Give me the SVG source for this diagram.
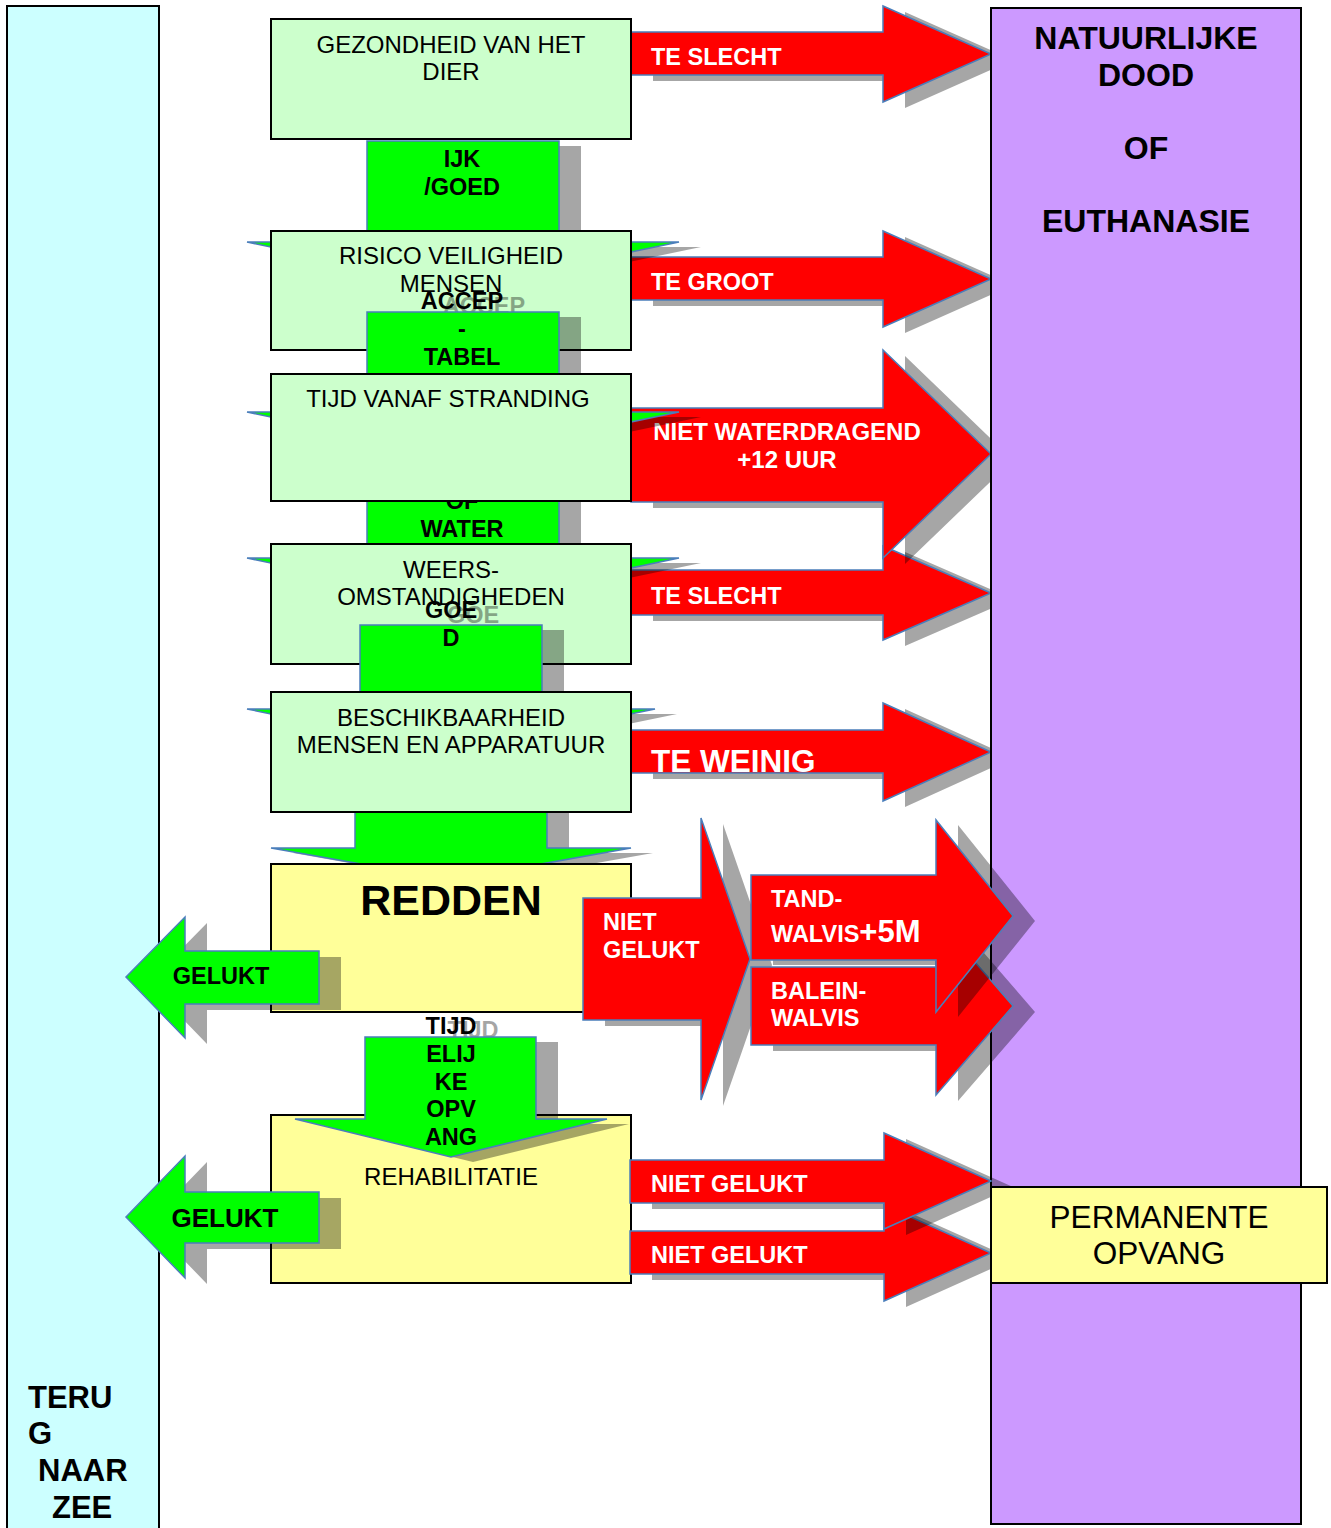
<svg xmlns="http://www.w3.org/2000/svg" width="1331" height="1528" viewBox="0 0 1331 1528">
<style>
text{font-family:"Liberation Sans",Arial,sans-serif}
.box{stroke:#000;stroke-width:2}
.gb{fill:#CCFFCC}
.yb{fill:#FFFF99}
.g{fill:#00FF00;stroke:#4A7EBB;stroke-width:1.5}
.r{fill:#FF0000;stroke:#4A7EBB;stroke-width:1.5}
.sh{opacity:0.35}
.sh polygon,.sh text{fill:#000;stroke:none}
.bt{font-size:24px;fill:#000;text-anchor:middle}
.wb{font-size:23.5px;font-weight:bold;fill:#fff}
.kb{font-size:23.5px;font-weight:bold;fill:#000;text-anchor:middle}
.pt{font-size:32px;font-weight:bold;fill:#000;text-anchor:middle}
</style>
<rect width="1331" height="1528" fill="#fff"/>

<g id="terug-naar-zee">
<rect x="7" y="6" width="152" height="1530" fill="#CCFFFF" class="box"/>
<text x="28" y="1408" style="font-size:31px;font-weight:bold">TERU</text>
<text x="28" y="1444" style="font-size:31px;font-weight:bold">G</text>
<text x="38" y="1481" style="font-size:31px;font-weight:bold">NAAR</text>
<text x="52" y="1518" style="font-size:31px;font-weight:bold">ZEE</text>
</g>

<g id="connectors-red-top">
<g id="arrow-te-slecht-1">
<polygon transform="translate(22,6)" points="631,32 883,32 883,6 991,54 883,102 883,75 631,75" fill="#000" opacity="0.35"/>
<polygon class="r" points="631,32 883,32 883,6 991,54 883,102 883,75 631,75"/>
<text class="wb" x="651" y="65">TE SLECHT</text>
</g>
<g id="arrow-te-groot">
<polygon transform="translate(22,6)" points="631,257 883,257 883,231 991,279 883,327 883,300 631,300" fill="#000" opacity="0.35"/>
<polygon class="r" points="631,257 883,257 883,231 991,279 883,327 883,300 631,300"/>
<text class="wb" x="651" y="290">TE GROOT</text>
</g>
<g id="arrow-te-slecht-2">
<polygon transform="translate(22,6)" points="631,570 883,570 883,546 991,593 883,640 883,615 631,615" fill="#000" opacity="0.35"/>
<polygon class="r" points="631,570 883,570 883,546 991,593 883,640 883,615 631,615"/>
<text class="wb" x="651" y="604">TE SLECHT</text>
</g>
<g id="arrow-niet-waterdragend">
<polygon transform="translate(22,6)" points="631,408 883,408 883,350 991,454 883,558 883,502 631,502" fill="#000" opacity="0.35"/>
<polygon class="r" points="631,408 883,408 883,350 991,454 883,558 883,502 631,502"/>
<text class="wb" x="787" y="440" text-anchor="middle" style="font-size:24px">NIET WATERDRAGEND</text>
<text class="wb" x="787" y="468" text-anchor="middle" style="font-size:24px">+12 UUR</text>
</g>
<g id="arrow-te-weinig">
<polygon transform="translate(22,6)" points="631,730 883,730 883,703 991,752 883,801 883,773 631,773" fill="#000" opacity="0.35"/>
<polygon class="r" points="631,730 883,730 883,703 991,752 883,801 883,773 631,773"/>
<text class="wb" x="651" y="772" style="font-size:31.5px">TE WEINIG</text>
</g>
</g>

<g id="natuurlijke-dood">
<rect x="991" y="8" width="310" height="1516" fill="#CC99FF" class="box"/>
<text x="1146" y="49" class="pt">NATUURLIJKE</text>
<text x="1146" y="86" class="pt">DOOD</text>
<text x="1146" y="159" class="pt">OF</text>
<text x="1146" y="232" class="pt">EUTHANASIE</text>
</g>

<g id="gezondheid">
<rect x="271" y="19" width="360" height="120" class="box gb"/>
<text class="bt" x="451" y="53">GEZONDHEID VAN HET</text>
<text class="bt" x="451" y="80">DIER</text>
</g>

<g id="arrow-ijk-goed">
<g class="sh" transform="translate(22,5)">
<polygon points="367,141 559,141 559,242 679,242 463,287 247,242 367,242"/>
</g>
<polygon class="g" points="367,141 559,141 559,242 679,242 463,287 247,242 367,242"/>
<text class="kb" x="462" y="167">IJK</text>
<text class="kb" x="462" y="195">/GOED</text>
</g>

<g id="risico">
<rect x="271" y="231" width="360" height="119" class="box gb"/>
<text class="bt" x="451" y="264">RISICO VEILIGHEID</text>
<text class="bt" x="451" y="292">MENSEN</text>
</g>

<g id="arrow-acceptabel">
<g class="sh" transform="translate(22,5)">
<polygon points="367,312 559,312 559,412 679,412 463,457 247,412 367,412"/>
<text x="462" y="309" style="font-size:23.5px;font-weight:bold" text-anchor="middle">ACCEP</text>
</g>
<polygon class="g" points="367,312 559,312 559,412 679,412 463,457 247,412 367,412"/>
<text class="kb" x="462" y="309">ACCEP</text>
<text class="kb" x="462" y="337">-</text>
<text class="kb" x="462" y="365">TABEL</text>
</g>

<g id="arrow-of-water">
<g class="sh" transform="translate(22,5)">
<polygon points="367,470 559,470 559,558 679,558 463,603 247,558 367,558"/>
</g>
<polygon class="g" points="367,470 559,470 559,558 679,558 463,603 247,558 367,558"/>
<text class="kb" x="462" y="509">OF</text>
<text class="kb" x="462" y="537">WATER</text>
</g>

<g id="tijd-stranding">
<rect x="271" y="374" width="360" height="127" class="box gb"/>
<text class="bt" x="448" y="407">TIJD VANAF STRANDING</text>
</g>

<g id="weersomstandigheden">
<rect x="271" y="544" width="360" height="120" class="box gb"/>
<text class="bt" x="451" y="578">WEERS-</text>
<text class="bt" x="451" y="605">OMSTANDIGHEDEN</text>
</g>

<g id="arrow-goed">
<g class="sh" transform="translate(22,5)">
<polygon points="360,625 542,625 542,709 655,709 451,751 247,709 360,709"/>
<text x="451" y="618" style="font-size:23.5px;font-weight:bold" text-anchor="middle">GOE</text>
</g>
<polygon class="g" points="360,625 542,625 542,709 655,709 451,751 247,709 360,709"/>
<text class="kb" x="451" y="618">GOE</text>
<text class="kb" x="451" y="646">D</text>
</g>

<g id="arrow-naar-redden">
<g class="sh" transform="translate(22,5)">
<polygon points="355,790 547,790 547,848 631,848 451,880 271,848 355,848"/>
</g>
<polygon class="g" points="355,790 547,790 547,848 631,848 451,880 271,848 355,848"/>
</g>

<g id="beschikbaarheid">
<rect x="271" y="692" width="360" height="120" class="box gb"/>
<text class="bt" x="451" y="726">BESCHIKBAARHEID</text>
<text class="bt" x="451" y="753">MENSEN EN APPARATUUR</text>
</g>

<g id="redden">
<rect x="271" y="864" width="360" height="148" class="box yb"/>
<text x="451" y="915" text-anchor="middle" style="font-size:43px;font-weight:bold">REDDEN</text>
</g>

<g id="rehabilitatie">
<rect x="271" y="1115" width="360" height="168" class="box yb"/>
<text class="bt" x="451" y="1185">REHABILITATIE</text>
</g>

<g id="connectors-redden">
<g id="arrow-niet-gelukt-redden">
<polygon transform="translate(22,6)" points="583,898 701,898 701,818 750,959 701,1100 701,1020 583,1020" fill="#000" opacity="0.35"/>
<polygon class="r" points="583,898 701,898 701,818 750,959 701,1100 701,1020 583,1020"/>
<text class="wb" x="603" y="930">NIET</text>
<text class="wb" x="603" y="958">GELUKT</text>
</g>
<g id="arrow-baleinwalvis">
<polygon transform="translate(22,6)" points="751,967 936,967 936,917 1013,1006 936,1095 936,1045 751,1045" fill="#000" opacity="0.35"/>
<polygon class="r" points="751,967 936,967 936,917 1013,1006 936,1095 936,1045 751,1045"/>
<text class="wb" x="771" y="999">BALEIN-</text>
<text class="wb" x="771" y="1026">WALVIS</text>
</g>
<g id="arrow-tandwalvis">
<polygon transform="translate(22,5)" points="751,875 936,875 936,820 1013,916 936,1012 936,960 751,960" fill="#000" opacity="0.35"/>
<polygon class="r" points="751,875 936,875 936,820 1013,916 936,1012 936,960 751,960"/>
<text class="wb" x="771" y="907">TAND-</text>
<text class="wb" x="771" y="942">WALVIS<tspan style="font-size:31px">+5M</tspan></text>
</g>
<g id="arrow-tijdelijke-opvang">
<g class="sh" transform="translate(22,5)">
<polygon points="365,1037 536,1037 536,1119 607,1119 451,1157 295,1119 365,1119"/>
<text x="451" y="1033" style="font-size:23.5px;font-weight:bold" text-anchor="middle">TIJD</text>
</g>
<polygon class="g" points="365,1037 536,1037 536,1119 607,1119 451,1157 295,1119 365,1119"/>
<text class="kb" x="451" y="1034">TIJD</text>
<text class="kb" x="451" y="1062">ELIJ</text>
<text class="kb" x="451" y="1090">KE</text>
<text class="kb" x="451" y="1117">OPV</text>
<text class="kb" x="451" y="1145">ANG</text>
</g>
<g id="arrow-gelukt-1">
<g class="sh" transform="translate(22,6)">
<polygon points="126,977 185,917 185,951 319,951 319,1004 185,1004 185,1038"/>
</g>
<polygon class="g" points="126,977 185,917 185,951 319,951 319,1004 185,1004 185,1038"/>
<text class="kb" x="221" y="984">GELUKT</text>
</g>
<g id="arrow-gelukt-2">
<g class="sh" transform="translate(22,6)">
<polygon points="126,1217 185,1156 185,1192 319,1192 319,1243 185,1243 185,1278"/>
</g>
<polygon class="g" points="126,1217 185,1156 185,1192 319,1192 319,1243 185,1243 185,1278"/>
<text class="kb" x="225" y="1227" style="font-size:26px">GELUKT</text>
</g>
<g id="arrow-niet-gelukt-2">
<polygon transform="translate(22,6)" points="630,1231 884,1231 884,1205 991,1253 884,1301 884,1274 630,1274" fill="#000" opacity="0.35"/>
<polygon class="r" points="630,1231 884,1231 884,1205 991,1253 884,1301 884,1274 630,1274"/>
<text class="wb" x="651" y="1263">NIET GELUKT</text>
</g>
<g id="arrow-niet-gelukt-1">
<polygon transform="translate(22,6)" points="630,1160 884,1160 884,1133 991,1181 884,1229 884,1203 630,1203" fill="#000" opacity="0.35"/>
<polygon class="r" points="630,1160 884,1160 884,1133 991,1181 884,1229 884,1203 630,1203"/>
<text class="wb" x="651" y="1192">NIET GELUKT</text>
</g>
</g>

<g id="permanente-opvang">
<rect x="991" y="1187" width="336" height="96" class="box yb"/>
<text x="1159" y="1228" text-anchor="middle" style="font-size:31.5px">PERMANENTE</text>
<text x="1159" y="1264" text-anchor="middle" style="font-size:31.5px">OPVANG</text>
</g>
</svg>
